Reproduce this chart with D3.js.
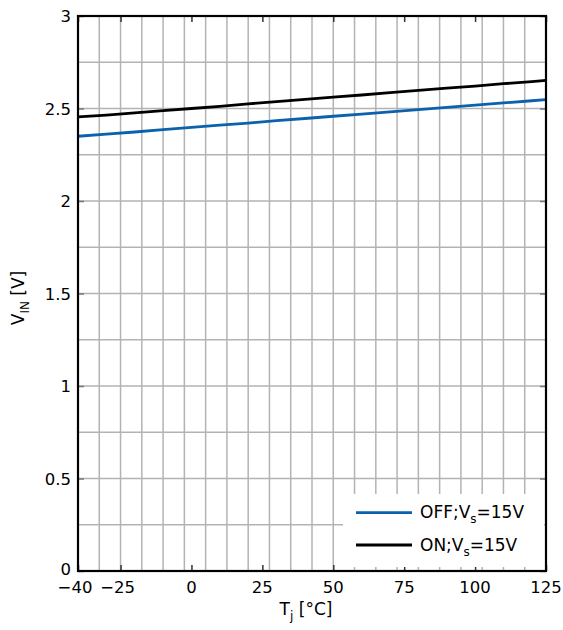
<!DOCTYPE html>
<html><head><meta charset="utf-8">
<script src="https://cdn.jsdelivr.net/npm/d3@7"></script>
<style>
html,body{margin:0;padding:0;background:#fff;}
svg text{font-family:"DejaVu Sans",sans-serif;fill:#000;}
</style></head>
<body><div id="chart"></div>
<script>
// ---- data ----
const temps = [-40,-30,-20,-10,0,10,20,30,40,50,60,70,80,90,100,110,120,125];
const onValues  = [2.455,2.464,2.476,2.488,2.500,2.512,2.525,2.537,2.549,2.561,2.573,2.586,2.598,2.610,2.621,2.634,2.645,2.652];
const offValues = [2.350,2.361,2.373,2.386,2.398,2.410,2.421,2.434,2.446,2.458,2.470,2.482,2.494,2.506,2.518,2.530,2.542,2.548];
const xTicks = [-40,-25,0,25,50,75,100,125];
const yTicks = [0,0.5,1,1.5,2,2.5,3];
const xGrid = d3.range(-40, 125.01, 7.5);
const yGrid = d3.range(0, 3.001, 0.25);
const seriesNames = ["OFF","ON"];
const seriesColors = ["#0a62ad","#000000"];

const W = 563, H = 630;
const m = {left:78, top:16, right:546, bottom:571};
const svg = d3.select("#chart").append("svg").attr("width",W).attr("height",H);
const x = d3.scaleLinear().domain([-40,125]).range([m.left,m.right]);
const y = d3.scaleLinear().domain([0,3]).range([m.bottom,m.top]);

// grid
const g = svg.append("g");
g.selectAll(".vg").data(xGrid).join("line")
  .attr("x1",d=>x(d)).attr("x2",d=>x(d)).attr("y1",m.top).attr("y2",m.bottom)
  .attr("stroke","#b3b3b3").attr("stroke-width",1.5);
g.selectAll(".hg").data(yGrid).join("line")
  .attr("y1",d=>y(d)).attr("y2",d=>y(d)).attr("x1",m.left).attr("x2",m.right)
  .attr("stroke","#b3b3b3").attr("stroke-width",1.5);

// ticks (inward)
const xAxB = d3.axisBottom(x).tickValues(xTicks).tickSize(-6).tickFormat("");
const xAxT = d3.axisTop(x).tickValues(xTicks).tickSize(-6).tickFormat("");
const yAxL = d3.axisLeft(y).tickValues(yTicks).tickSize(-6).tickFormat("");
const yAxR = d3.axisRight(y).tickValues(yTicks).tickSize(-6).tickFormat("");
[[xAxB,`translate(0,${m.bottom})`],[xAxT,`translate(0,${m.top})`],[yAxL,`translate(${m.left},0)`],[yAxR,`translate(${m.right},0)`]]
 .forEach(([ax,tr],i)=>{
  const a = svg.append("g").attr("transform",tr).call(ax);
  a.select(".domain").remove();
  a.selectAll("line").attr("stroke", i<2 ? "#333" : "#777").attr("stroke-width",1.5);
 });

// lines
const line = d3.line().x((d,i)=>x(temps[i])).y(d=>y(d));
svg.append("path").datum(offValues).attr("d",line).attr("fill","none")
  .attr("stroke",seriesColors[0]).attr("stroke-width",2.8);
svg.append("path").datum(onValues).attr("d",line).attr("fill","none")
  .attr("stroke",seriesColors[1]).attr("stroke-width",2.8);

// legend
svg.append("rect").attr("x",343).attr("y",494).attr("width",201).attr("height",73).attr("fill","#fff");
const legY = [512.7, 545];
seriesNames.forEach((n,i)=>{
  svg.append("line").attr("x1",356).attr("x2",412).attr("y1",legY[i]).attr("y2",legY[i])
    .attr("stroke",seriesColors[i]).attr("stroke-width",2.8);
  const t = svg.append("text").attr("x",420).attr("y",legY[i]+5.5).attr("font-size",17);
  t.append("tspan").text(n+";V");
  t.append("tspan").attr("font-size",12).attr("dy",5).text("s");
  t.append("tspan").attr("dy",-5).text("=15V");
});

// frame
svg.append("rect").attr("x",m.left).attr("y",m.top).attr("width",m.right-m.left).attr("height",m.bottom-m.top)
  .attr("fill","none").attr("stroke","#000").attr("stroke-width",2.2);

// tick labels
svg.selectAll(".xl").data(xTicks).join("text")
  .attr("x",d=>x(d)-(d<0?3:0)).attr("y",593).attr("text-anchor","middle").attr("font-size",16.5)
  .text(d=>d<0?"\u2212"+Math.abs(d):d);
svg.selectAll(".yl").data(yTicks).join("text")
  .attr("x",71).attr("y",d=>y(d)+(d===0?4:6)).attr("text-anchor","end").attr("font-size",16.5)
  .text(d=>d);

// axis titles
const xt = svg.append("text").attr("x",306).attr("y",615).attr("text-anchor","middle").attr("font-size",17);
xt.append("tspan").text("T");
xt.append("tspan").attr("font-size",12).attr("dy",5).text("j");
xt.append("tspan").attr("dy",-5).text(" [°C]");

const yt = svg.append("text").attr("transform","translate(24,298) rotate(-90)")
  .attr("text-anchor","middle").attr("font-size",17);
yt.append("tspan").text("V");
yt.append("tspan").attr("font-size",12).attr("dy",5).text("IN");
yt.append("tspan").attr("dy",-5).text(" [V]");
</script></body></html>
